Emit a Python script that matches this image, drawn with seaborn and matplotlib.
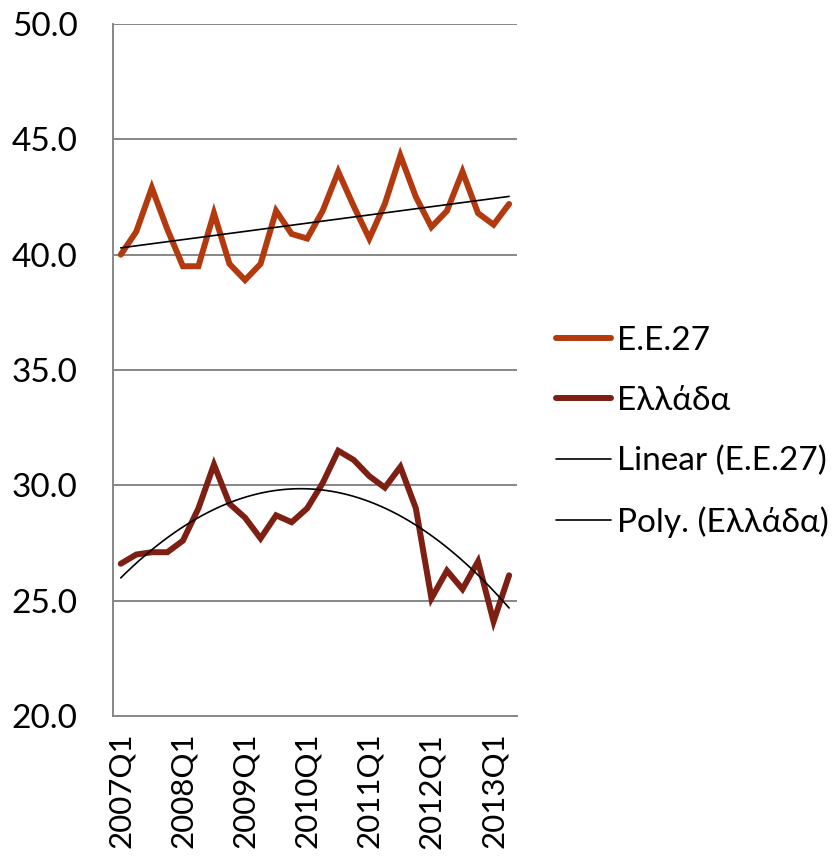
import numpy as np
import pandas as pd
import matplotlib
matplotlib.use("Agg")
import matplotlib.pyplot as plt
import seaborn as sns
from matplotlib.lines import Line2D
from matplotlib.ticker import FormatStrFormatter

quarters = [f"{y}Q{q}" for y in range(2007, 2014) for q in range(1, 5)][:26]
eu27 = [40.0, 41.0, 42.9, 41.1, 39.5, 39.5, 41.8, 39.6, 38.9, 39.6,
        41.9, 40.9, 40.7, 41.9, 43.6, 42.1, 40.7, 42.2, 44.3, 42.5,
        41.2, 41.9, 43.6, 41.8, 41.3, 42.2]
greece = [26.6, 27.0, 27.1, 27.1, 27.6, 29.0, 30.9, 29.2, 28.6, 27.7,
          28.7, 28.4, 29.0, 30.1, 31.5, 31.1, 30.4, 29.9, 30.8, 29.0,
          25.1, 26.3, 25.5, 26.7, 24.1, 26.1]
labels = ["E.E.27", "Ελλάδα", "Linear (E.E.27)", "Poly. (Ελλάδα)"]
yticks = [20, 25, 30, 35, 40, 45, 50]

c_eu = "#B3390E"
c_gr = "#7E1F13"
grid_c = "#868686"
fs = 24

sns.set_style("white")
plt.rcParams['font.family'] = ['Lato', 'Open Sans', 'DejaVu Sans']
plt.rcParams['text.color'] = 'black'

df = pd.DataFrame({"x": np.arange(len(quarters)), "eu": eu27, "gr": greece})

fig = plt.figure(figsize=(8.35, 8.59), dpi=100)
ax = fig.add_axes([0.1353, 0.1665, 0.619 - 0.1353, 0.972 - 0.1665])

for y in yticks[1:]:
    ax.axhline(y, color=grid_c, lw=1.4, zorder=0)

sns.lineplot(data=df, x="x", y="eu", ax=ax, color=c_eu, lw=4.3,
             solid_joinstyle="miter", zorder=3)
sns.lineplot(data=df, x="x", y="gr", ax=ax, color=c_gr, lw=4.3,
             solid_joinstyle="miter", zorder=3)
sns.regplot(data=df, x="x", y="eu", ax=ax, scatter=False, ci=None, order=1,
            line_kws=dict(color="black", lw=1.2, zorder=4))
sns.regplot(data=df, x="x", y="gr", ax=ax, scatter=False, ci=None, order=2,
            line_kws=dict(color="black", lw=1.2, zorder=4))

ax.set_xlim(-0.5, len(quarters) - 0.5)
ax.set_ylim(20, 50)
ax.set_yticks(yticks)
ax.yaxis.set_major_formatter(FormatStrFormatter("%.1f"))
ax.set_xticks(np.arange(0, len(quarters), 4))
ax.set_xticklabels([quarters[i] for i in range(0, len(quarters), 4)], rotation=90)
ax.set_xticks(np.arange(-0.5, len(quarters), 1), minor=True)
ax.tick_params(axis="x", which="major", length=0, pad=12, labelsize=22.5, labelcolor="black")
ax.tick_params(axis="x", which="minor", length=8, width=1.2, color=grid_c, direction="out")
ax.tick_params(axis="y", which="major", length=9.4, width=1.2, color=grid_c,
               direction="out", labelsize=fs, pad=16, labelcolor="black")
ax.set_xlabel("")
ax.set_ylabel("")
for s in ["top", "right"]:
    ax.spines[s].set_visible(False)
for s in ["left", "bottom"]:
    ax.spines[s].set_color(grid_c)
    ax.spines[s].set_linewidth(1.4)

handles = [Line2D([], [], color=c_eu, lw=4.3, solid_capstyle="round"),
           Line2D([], [], color=c_gr, lw=4.3, solid_capstyle="round"),
           Line2D([], [], color="black", lw=1.2),
           Line2D([], [], color="black", lw=1.2)]
fig.legend(handles, labels, loc="center left", bbox_to_anchor=(0.666, 0.497),
           frameon=False, fontsize=fs, handlelength=1.65, handletextpad=0.18,
           labelspacing=0.9, borderaxespad=0, borderpad=0)

fig.savefig("out.png", dpi=100, facecolor="white")
